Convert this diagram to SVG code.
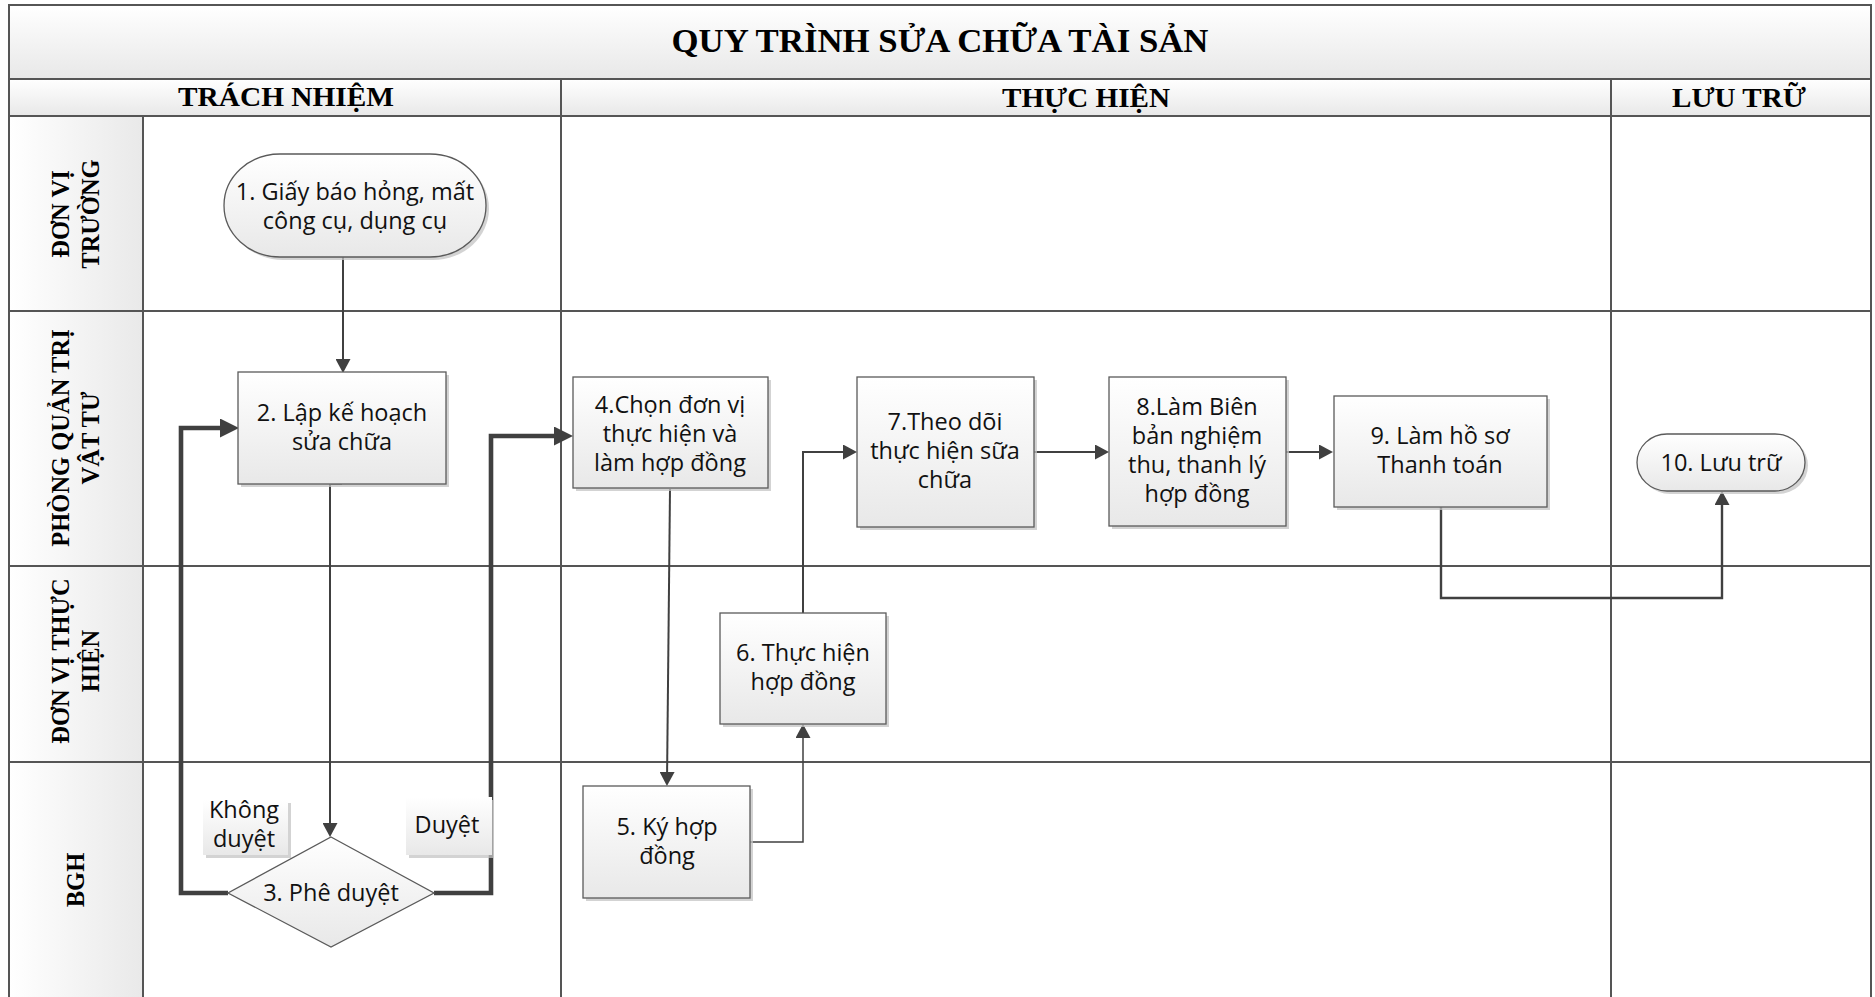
<svg xmlns="http://www.w3.org/2000/svg" width="1875" height="997" viewBox="0 0 1875 997">
<defs>
<linearGradient id="gHead" x1="0" y1="0" x2="0" y2="1"><stop offset="0" stop-color="#ffffff"/><stop offset="1" stop-color="#e8e8e8"/></linearGradient>
<linearGradient id="gLane" x1="0" y1="0" x2="1" y2="0"><stop offset="0" stop-color="#ffffff"/><stop offset="1" stop-color="#e9e9e9"/></linearGradient>
<linearGradient id="gBox" x1="0" y1="0" x2="0" y2="1"><stop offset="0" stop-color="#ffffff"/><stop offset="1" stop-color="#e8e8e8"/></linearGradient>
<marker id="arr" markerUnits="userSpaceOnUse" markerWidth="14" markerHeight="15" viewBox="0 0 14 15" refX="0" refY="7.5" orient="auto"><path d="M0,0 L14,7.5 L0,15 z" fill="#404040"/></marker>
<marker id="arrB" markerUnits="userSpaceOnUse" markerWidth="19" markerHeight="19" viewBox="0 0 19 19" refX="0" refY="9.5" orient="auto"><path d="M0,0 L19,9.5 L0,19 z" fill="#404040"/></marker>
</defs>
<style>
.grid{stroke:#555;stroke-width:2;fill:none}
.hd{font-family:"Liberation Serif","Times New Roman",serif;font-weight:bold;fill:#000;text-anchor:middle}
.ln{font-family:"Liberation Serif","Times New Roman",serif;font-weight:bold;font-size:24.5px;fill:#000;text-anchor:middle}
.box{fill:url(#gBox);stroke:#5a5a5a;stroke-width:1.3}
.sh{fill:#c4c4c4;opacity:0.75}
.t{font-family:"Open Sans","Noto Sans","Liberation Sans",sans-serif;font-size:23.5px;fill:#111;text-anchor:middle}
.c{fill:none;stroke:#404040;stroke-width:2}
.ck{fill:none;stroke:#404040;stroke-width:4.6;stroke-linejoin:miter}
.lbl{fill:url(#gBox)}
</style>
<rect x="0" y="0" width="1875" height="997" fill="#ffffff"/>
<g id="frame">
<rect x="9" y="5" width="1862" height="74" fill="url(#gHead)"/>
<rect x="9" y="79" width="1862" height="37" fill="url(#gHead)"/>
<rect x="9" y="116" width="134" height="195" fill="url(#gLane)"/>
<rect x="9" y="311" width="134" height="255" fill="url(#gLane)"/>
<rect x="9" y="566" width="134" height="196" fill="url(#gLane)"/>
<rect x="9" y="762" width="134" height="240" fill="url(#gLane)"/>
<rect x="9" y="5" width="1862" height="1000" class="grid"/>
<path class="grid" d="M9,79 H1871 M9,116 H1871 M9,311 H1871 M9,566 H1871 M9,762 H1871 M561,79 V997 M1611,79 V997 M143,116 V997"/>
<text class="hd" x="940" y="52" font-size="33" textLength="537" lengthAdjust="spacingAndGlyphs">QUY TRÌNH SỬA CHỮA TÀI SẢN</text>
<text class="hd" x="286" y="106" font-size="27.5" textLength="216" lengthAdjust="spacingAndGlyphs">TRÁCH NHIỆM</text>
<text class="hd" x="1086" y="107" font-size="27.5" textLength="168" lengthAdjust="spacingAndGlyphs">THỰC HIỆN</text>
<text class="hd" x="1739" y="107" font-size="27.5" textLength="134" lengthAdjust="spacingAndGlyphs">LƯU TRỮ</text>
<g transform="translate(69,214) rotate(-90)"><text class="ln" x="0" y="0">ĐƠN VỊ</text><text class="ln" x="0" y="30">TRƯỜNG</text></g>
<g transform="translate(69,438) rotate(-90)"><text class="ln" x="0" y="0">PHÒNG QUẢN TRỊ</text><text class="ln" x="0" y="30">VẬT TƯ</text></g>
<g transform="translate(69,661) rotate(-90)"><text class="ln" x="0" y="0">ĐƠN VỊ THỰC</text><text class="ln" x="0" y="30">HIỆN</text></g>
<g transform="translate(84,880) rotate(-90)"><text class="ln" x="0" y="0">BGH</text></g>
</g>
<g id="connectors">
<path class="c" d="M343,257 V359" marker-end="url(#arr)"/>
<path class="c" d="M342,484 H330 V823" marker-end="url(#arr)"/>
<path class="ck" d="M228,893 H181 V428 H220" marker-end="url(#arrB)"/>
<path class="ck" d="M434,893 H491 V436 H554" marker-end="url(#arrB)"/>
<path class="c" d="M670,489 L667.1,772" marker-end="url(#arr)"/>
<path class="c" style="stroke-width:1.5" d="M750,842 H803 V738" marker-end="url(#arr)"/>
<path class="c" d="M803,613 V452 H843" marker-end="url(#arr)"/>
<path class="c" d="M1034,452 H1095" marker-end="url(#arr)"/>
<path class="c" d="M1286,452 H1319" marker-end="url(#arr)"/>
<path class="c" style="stroke-width:2.4" d="M1441,507 V598 H1722 V505" marker-end="url(#arr)"/>
</g>
<g id="n1">
<rect class="sh" x="227" y="157" width="262" height="103" rx="56" ry="51.5"/>
<rect class="box" x="224" y="154" width="262" height="103" rx="56" ry="51.5"/>
<text class="t" x="355" y="200">1. Giấy báo hỏng, mất</text>
<text class="t" x="355" y="229">công cụ, dụng cụ</text>
</g>
<g id="n2">
<rect class="sh" x="241" y="375" width="208" height="112"/>
<rect class="box" x="238" y="372" width="208" height="112"/>
<text class="t" x="342" y="421">2. Lập kế hoạch</text>
<text class="t" x="342" y="450">sửa chữa</text>
</g>
<g id="n3">
<polygon class="box" points="331,837 434,893 331,947 228,893"/>
<text class="t" x="331" y="901">3. Phê duyệt</text>
</g>
<g id="n4">
<rect class="sh" x="576" y="380" width="195" height="111"/>
<rect class="box" x="573" y="377" width="195" height="111"/>
<text class="t" x="670" y="413">4.Chọn đơn vị</text>
<text class="t" x="670" y="442">thực hiện và</text>
<text class="t" x="670" y="471">làm hợp đồng</text>
</g>
<g id="n5">
<rect class="sh" x="586" y="789" width="167" height="112"/>
<rect class="box" x="583" y="786" width="167" height="112"/>
<text class="t" x="667" y="835">5. Ký hợp</text>
<text class="t" x="667" y="864">đồng</text>
</g>
<g id="n6">
<rect class="sh" x="723" y="616" width="166" height="111"/>
<rect class="box" x="720" y="613" width="166" height="111"/>
<text class="t" x="803" y="661">6. Thực hiện</text>
<text class="t" x="803" y="690">hợp đồng</text>
</g>
<g id="n7">
<rect class="sh" x="860" y="380" width="177" height="150"/>
<rect class="box" x="857" y="377" width="177" height="150"/>
<text class="t" x="945" y="430">7.Theo dõi</text>
<text class="t" x="945" y="459">thực hiện sữa</text>
<text class="t" x="945" y="488">chữa</text>
</g>
<g id="n8">
<rect class="sh" x="1112" y="380" width="177" height="149"/>
<rect class="box" x="1109" y="377" width="177" height="149"/>
<text class="t" x="1197" y="415">8.Làm Biên</text>
<text class="t" x="1197" y="444">bản nghiệm</text>
<text class="t" x="1197" y="473">thu, thanh lý</text>
<text class="t" x="1197" y="502">hợp đồng</text>
</g>
<g id="n9">
<rect class="sh" x="1337" y="399" width="213" height="111"/>
<rect class="box" x="1334" y="396" width="213" height="111"/>
<text class="t" x="1440" y="444">9. Làm hồ sơ</text>
<text class="t" x="1440" y="473">Thanh toán</text>
</g>
<g id="n10">
<rect class="sh" x="1640" y="437" width="168" height="57" rx="30" ry="28.5"/>
<rect class="box" x="1637" y="434" width="168" height="57" rx="30" ry="28.5"/>
<text class="t" x="1721" y="471">10. Lưu trữ</text>
</g>
<g id="label-khong-duyet">
<rect class="sh" x="206" y="803" width="85" height="55"/>
<rect class="lbl" x="203" y="800" width="85" height="55"/>
<text class="t" x="244" y="818">Không</text>
<text class="t" x="244" y="847">duyệt</text>
</g>
<g id="label-duyet">
<rect class="sh" x="409" y="800" width="85" height="58"/>
<rect class="lbl" x="406" y="797" width="86" height="58"/>
<text class="t" x="447" y="833">Duyệt</text>
</g>
</svg>
